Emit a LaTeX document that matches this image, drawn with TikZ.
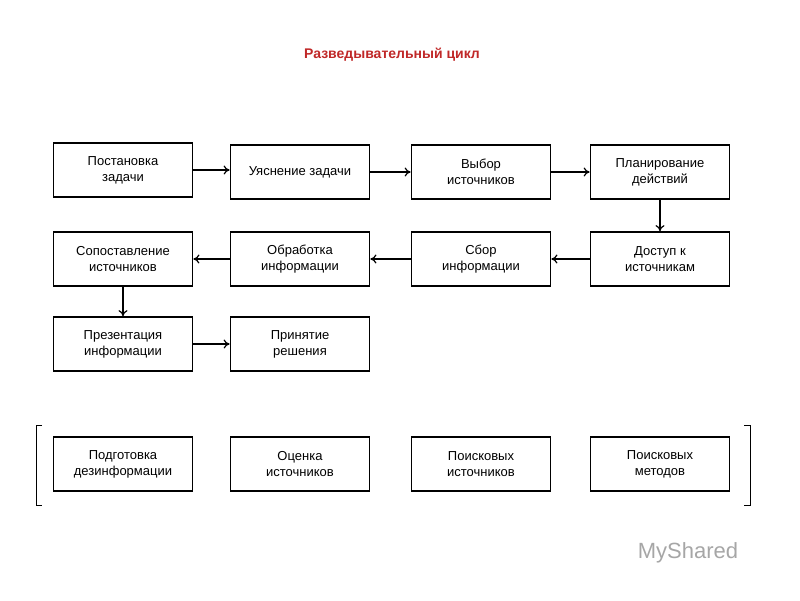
\documentclass[tikz,border=0pt]{standalone}
\usepackage{fontspec}
\setmainfont{Liberation Sans}
\usetikzlibrary{positioning,arrows.meta}
\definecolor{titlered}{RGB}{192,40,40}

\begin{document}
\begin{tikzpicture}[x=1pt, y=-1pt,
    box/.style={draw, line width=1.8pt, minimum width=139pt, minimum height=54pt,
                align=center, font=\fontsize{13}{16}\selectfont, inner sep=2pt},
    link/.style={-{To[length=6pt,width=9pt]}, line width=1.2pt}]
	\useasboundingbox (0,0) rectangle (800,600);
	\node[text=titlered, font=\fontsize{14}{16}\selectfont\bfseries] (title) at (392,55) {Разведывательный цикл};

	% first row
	\node[box] (task) at (123,170) {Постановка\\задачи};
	\node[box] (clarify) at (300,172) {Уяснение задачи};
	\node[box] (choose) at (481,172) {Выбор\\источников};
	\node[box] (plan) at (660,172) {Планирование\\действий};

	% second row
	\node[box] (compare) at (123,259) {Сопоставление\\источников};
	\node[box] (process) at (300,259) {Обработка\\информации};
	\node[box] (collect) at (481,259) {Сбор\\информации};
	\node[box] (access) at (660,259) {Доступ к\\источникам};

	% third row
	\node[box] (present) at (123,344) {Презентация\\информации};
	\node[box] (decide) at (300,344) {Принятие\\решения};

	% fourth row
	\node[box] (disinfo) at (123,464) {Подготовка\\дезинформации};
	\node[box] (assess) at (300,464) {Оценка\\источников};
	\node[box] (search) at (481,464) {Поисковых\\источников};
	\node[box] (methods) at (660,464) {Поисковых\\методов};

	\draw[link] (task.east) -- (task.east -| clarify.west);
	\draw[link] (clarify) -- (choose);
	\draw[link] (choose) -- (plan);
	\draw[link] (plan) -- (access);
	\draw[link] (access) -- (collect);
	\draw[link] (collect) -- (process);
	\draw[link] (process) -- (compare);
	\draw[link] (compare) -- (present);
	\draw[link] (present) -- (decide);

	% brackets
	\draw[line width=1pt] (42,425) -- (36,425) -- (36,505) -- (42,505);
	\draw[line width=1pt] (744,425) -- (750,425) -- (750,505) -- (744,505);

	\node[text=gray!70, font=\fontsize{22}{24}\selectfont] (mark) at (688,553) {MyShared};
\end{tikzpicture}
\end{document}
